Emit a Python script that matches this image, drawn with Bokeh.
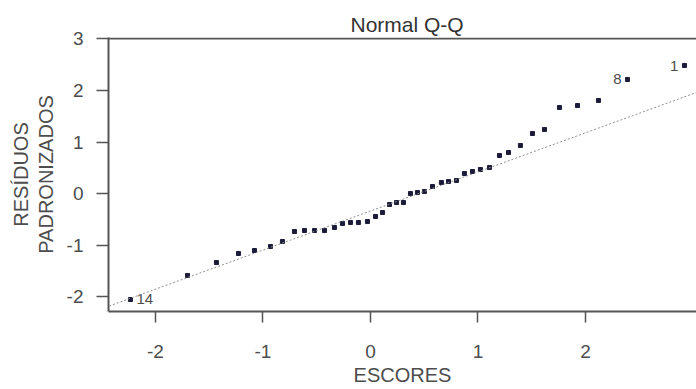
from bokeh.plotting import figure
from bokeh.models import Range1d, FixedTicker, Slope, Span, ColumnDataSource, CustomJSTickFormatter
from bokeh.embed import file_html
from bokeh.resources import INLINE
from bokeh.core.properties import value

# Theoretical normal quantiles (x) and standardized residuals (y)
theoretical = [-2.233, -1.702, -1.433, -1.228, -1.079, -0.930, -0.819, -0.707,
               -0.614, -0.521, -0.428, -0.335, -0.260, -0.186, -0.112, -0.028,
               0.047, 0.112, 0.177, 0.242, 0.307, 0.372, 0.437, 0.502,
               0.577, 0.660, 0.726, 0.800, 0.874, 0.949, 1.023, 1.107,
               1.200, 1.284, 1.395, 1.507, 1.619, 1.758, 1.926, 2.121,
               2.391, 2.921]
residuals = [-2.058, -1.592, -1.340, -1.165, -1.107, -1.029, -0.932, -0.738,
             -0.718, -0.718, -0.718, -0.660, -0.583, -0.563, -0.563, -0.544,
             -0.447, -0.369, -0.214, -0.175, -0.175, 0.000, 0.019, 0.039,
             0.136, 0.214, 0.233, 0.252, 0.388, 0.427, 0.466, 0.505,
             0.738, 0.796, 0.932, 1.165, 1.243, 1.670, 1.709, 1.806,
             2.214, 2.485]

# Labelled observations (case number, index in the sorted arrays)
label_text = ["14", "8", "1"]
label_index = [0, 40, 41]

# Reference (Q-Q) line
line_intercept = -0.34
line_slope = 0.759

x_ticks = [-2, -1, 0, 1, 2]
y_ticks = [-2, -1, 0, 1, 2, 3]

X_START, X_END = -2.437, 3.033
Y_START, Y_END = -2.291, 3.029

FONT = "Liberation Sans"
TEXT_COL = "#4d4d4d"
AXIS_COL = "#555555"

p = figure(width=696, height=389, output_backend="svg", toolbar_location=None,
           x_range=Range1d(X_START, X_END), y_range=Range1d(Y_START, Y_END),
           min_border_left=108, min_border_right=0, min_border_top=37,
           min_border_bottom=78, title="Normal Q-Q")
p.grid.visible = False
p.outline_line_color = None
p.background_fill_color = "white"
p.border_fill_color = "white"

p.title.text_font = FONT
p.title.text_font_size = "21px"
p.title.text_font_style = "normal"
p.title.text_color = "#333333"
p.title.align = "left"
p.title.offset = 242
p.title.standoff = 4

fmt = CustomJSTickFormatter(code="return tick.toFixed(0)")
for ax in p.axis:
    ax.formatter = fmt
    ax.axis_line_color = AXIS_COL
    ax.axis_line_width = 2
    ax.major_tick_line_color = AXIS_COL
    ax.major_tick_line_width = 1.5
    ax.major_tick_in = 0
    ax.minor_tick_line_color = None
    ax.major_label_text_font = FONT
    ax.major_label_text_font_size = "19px"
    ax.major_label_text_color = TEXT_COL
    ax.axis_label_text_font = FONT
    ax.axis_label_text_font_size = "20px"
    ax.axis_label_text_font_style = "normal"
    ax.axis_label_text_color = TEXT_COL
    ax.axis_label_text_line_height = 1.1

p.xaxis.ticker = FixedTicker(ticks=x_ticks)
p.xaxis.major_tick_out = 11
p.xaxis.major_label_standoff = 22
p.xaxis.axis_label = "ESCORES"
p.xaxis.axis_label_standoff = 3

p.yaxis.ticker = FixedTicker(ticks=y_ticks)
p.yaxis.major_tick_out = 12
p.yaxis.major_label_standoff = 13
p.yaxis.axis_label = "RESÍDUOS\nPADRONIZADOS"
p.yaxis.axis_label_standoff = 7

# top border of the frame (right side is cut off in the reference)
p.add_layout(Span(location=Y_END - 0.02, dimension="width", line_color=AXIS_COL, line_width=2))

# reference line
p.add_layout(Slope(gradient=line_slope, y_intercept=line_intercept,
                   line_color="#8f8f8f", line_width=1, line_dash="2 2"))

src = ColumnDataSource(dict(x=theoretical, y=residuals))
p.scatter("x", "y", source=src, marker="square", size=4,
          fill_color="#1c1c3a", line_color="#1c1c3a")

lab = ColumnDataSource(dict(
    x=[theoretical[i] for i in label_index],
    y=[residuals[i] for i in label_index],
    t=label_text,
    xo=[6, -6, -6],
    al=["left", "right", "right"],
))
p.text("x", "y", text="t", source=lab, x_offset="xo", text_align="al",
       text_baseline="middle", text_font=value(FONT), text_font_size="15px",
       text_color=TEXT_COL)

open("out.html", "w").write(file_html(p, INLINE))
